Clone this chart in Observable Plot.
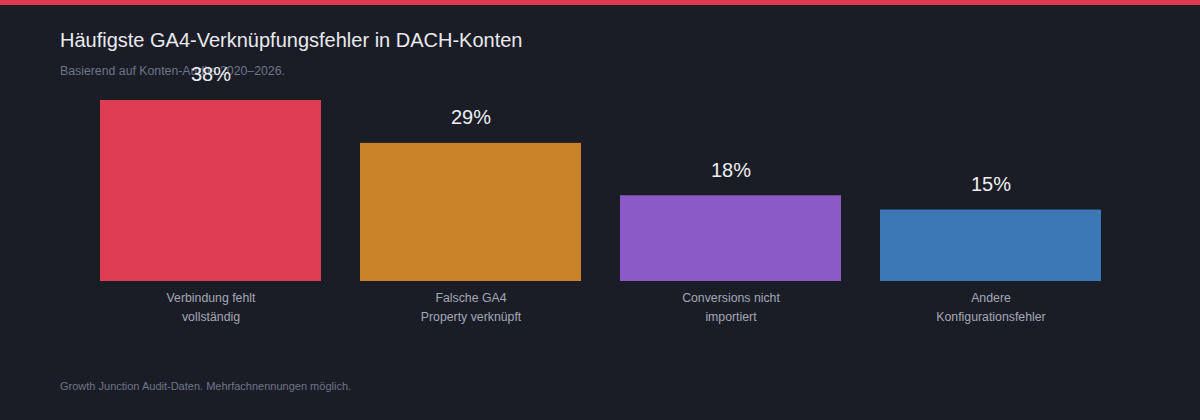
<!DOCTYPE html>
<html>
<head>
<meta charset="utf-8">
<script src="https://cdn.jsdelivr.net/npm/d3@7"></script>
<script src="https://cdn.jsdelivr.net/npm/@observablehq/plot@0.6"></script>
<style>
  html, body { margin: 0; padding: 0; background: #1b1d26; }
  #wrap { position: relative; width: 1200px; height: 420px; background: #1b1d26; overflow: hidden;
          font-family: "Liberation Sans", Arial, Helvetica, sans-serif; }
  #topbar { position: absolute; left: 0; top: 0; width: 1200px; height: 5px; background: #e03a50; }
  #title { position: absolute; left: 60px; top: 29px; font-size: 20px; color: #e9e9ef; white-space: nowrap; }
  #subtitle { position: absolute; left: 60px; top: 64px; font-size: 12.3px; color: #6f7487; white-space: nowrap; }
  #caption { position: absolute; left: 60px; top: 380px; font-size: 11px; color: #6f7487; white-space: nowrap; }
  #chart { position: absolute; left: 0; top: 0; }
  #chart svg { background: transparent; overflow: visible; }
</style>
</head>
<body>
<div id="wrap">
  <div id="topbar"></div>
  <div id="title">Häufigste GA4-Verknüpfungsfehler in DACH-Konten</div>
  <div id="subtitle">Basierend auf Konten-Audits 2020–2026.</div>
  <div id="chart"></div>
  <div id="caption">Growth Junction Audit-Daten. Mehrfachnennungen möglich.</div>
</div>
<script>
const categories = ["Verbindung fehlt vollständig", "Falsche GA4 Property verknüpft", "Conversions nicht importiert", "Andere Konfigurationsfehler"];
const tickLabels = ["Verbindung fehlt\nvollständig", "Falsche GA4\nProperty verknüpft", "Conversions nicht\nimportiert", "Andere\nKonfigurationsfehler"];
const values = [38, 29, 18, 15];
const palette = ["#df3d53", "#c88327", "#8c5ac6", "#3d78b6"];

const data = categories.map((c, i) => ({category: c, value: values[i]}));
const labelOf = new Map(categories.map((c, i) => [c, tickLabels[i]]));

const chart = Plot.plot({
  width: 1200,
  height: 340,
  marginTop: 100,
  marginBottom: 59,
  marginLeft: 61,
  marginRight: 60,
  style: {background: "transparent", color: "#a3a7b6", fontFamily: "Liberation Sans, Arial, sans-serif"},
  x: {domain: categories, padding: 0.15, axis: null},
  y: {domain: [0, 38], axis: null},
  color: {domain: categories, range: palette},
  marks: [
    Plot.barY(data, {x: "category", y: "value", fill: "category"}),
    Plot.text(data, {x: "category", y: "value", text: d => d.value + "%", dy: -25.5, fill: "#eeeef3", fontSize: 20}),
    Plot.axisX({tickSize: 0, tickPadding: 7, fontSize: 12.3, lineHeight: 1.55, label: null, tickFormat: d => labelOf.get(d), fill: "#a3a7b6"})
  ]
});
document.getElementById("chart").appendChild(chart);
</script>
</body>
</html>
